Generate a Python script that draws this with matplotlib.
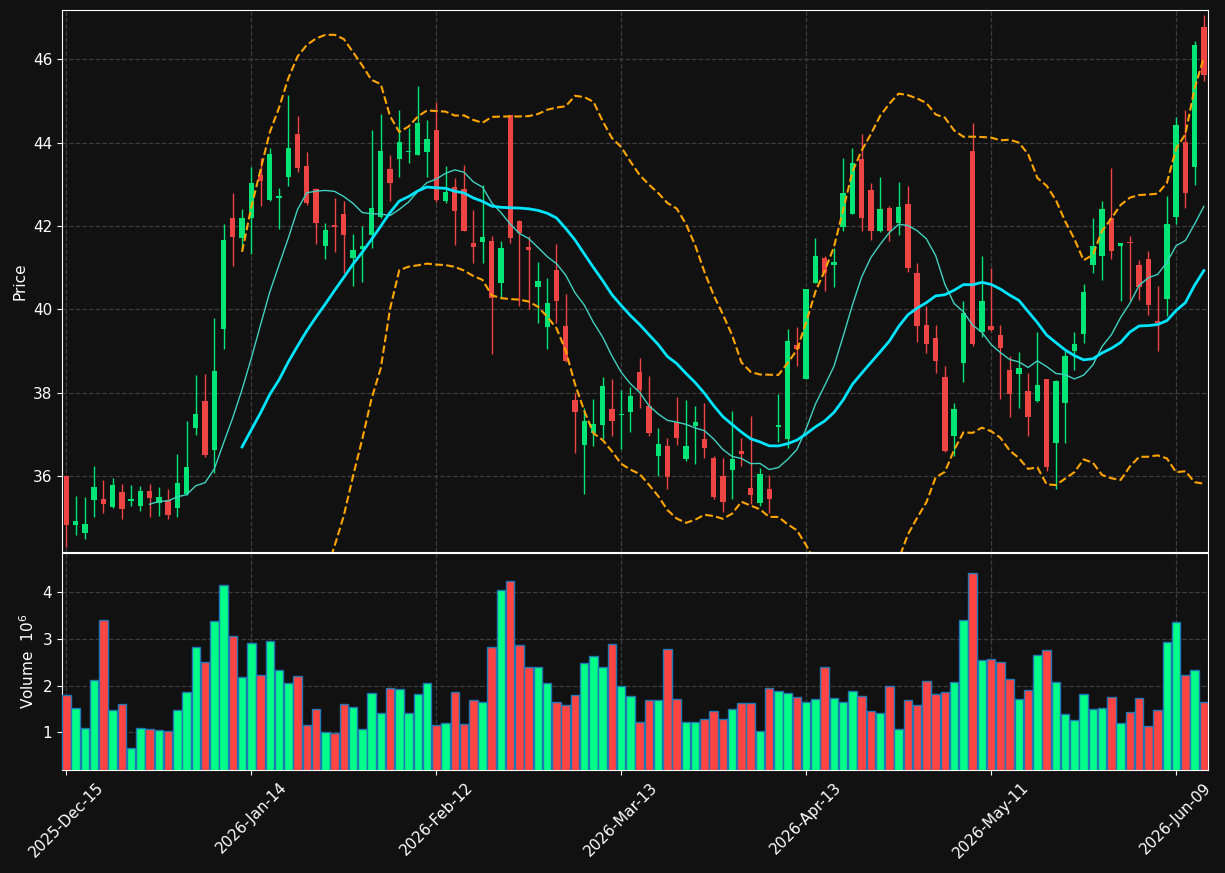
import numpy as np
import pandas as pd
import matplotlib
matplotlib.use("Agg")
import matplotlib.pyplot as plt

# daily OHLC (price) and volume (millions)
opens = [36.00, 34.82, 34.63, 35.43, 35.46, 35.27, 35.61, 35.41, 35.29, 35.65,
         35.35, 35.43, 35.23, 35.58, 37.15, 37.81, 36.62, 39.52, 42.20, 41.70,
         42.18, 43.23, 42.62, 42.66, 43.17, 44.21, 43.44, 42.89, 41.53, 42.03,
         42.29, 41.23, 41.44, 41.78, 42.21, 43.36, 43.60, 43.77, 43.71, 43.77,
         44.29, 42.61, 42.94, 42.89, 41.60, 41.61, 41.63, 40.64, 44.65, 42.13,
         41.50, 40.54, 39.57, 40.95, 39.61, 37.83, 36.74, 37.03, 37.23, 37.60,
         37.46, 37.53, 38.50, 37.67, 36.48, 36.73, 37.29, 36.40, 37.21, 36.90,
         36.44, 36.00, 36.14, 36.61, 35.71, 35.35, 35.69, 37.18, 36.88, 39.14,
         38.33, 40.64, 41.24, 41.06, 41.98, 42.29, 43.61, 42.87, 41.87, 42.43,
         42.08, 42.53, 40.88, 39.63, 39.32, 38.38, 36.96, 38.71, 43.79, 39.46,
         39.61, 39.39, 38.54, 38.44, 38.03, 37.79, 38.32, 36.79, 37.75, 38.99,
         39.42, 41.06, 41.27, 42.20, 41.51, 41.60, 41.07, 41.20, 39.72, 40.25,
         42.21, 44.02, 43.42, 46.78]
highs = [36.02, 35.53, 35.50, 36.24, 35.91, 35.96, 35.82, 35.79, 35.77, 35.82,
         35.74, 35.69, 36.54, 37.33, 38.43, 38.45, 39.79, 42.04, 42.79, 42.41,
         43.42, 43.63, 43.88, 42.91, 45.14, 44.64, 43.78, 42.92, 42.07, 42.67,
         42.60, 41.81, 42.00, 44.31, 44.69, 43.71, 44.78, 44.35, 45.36, 44.54,
         44.98, 43.43, 43.15, 43.46, 42.39, 42.98, 41.75, 41.64, 44.67, 42.14,
         41.75, 41.13, 40.75, 41.57, 40.36, 38.00, 37.63, 37.86, 38.38, 38.33,
         38.06, 38.13, 38.83, 38.40, 37.16, 36.91, 37.90, 37.82, 37.69, 37.75,
         36.48, 36.44, 37.57, 36.92, 37.44, 36.19, 36.03, 37.96, 39.53, 39.58,
         40.50, 41.71, 41.27, 41.46, 43.63, 43.86, 44.21, 43.02, 43.18, 42.47,
         43.06, 42.96, 41.11, 40.08, 39.63, 38.64, 37.75, 40.21, 44.46, 41.28,
         40.98, 39.63, 38.88, 38.98, 38.48, 39.46, 38.33, 38.31, 39.00, 39.46,
         40.61, 42.19, 42.60, 43.38, 41.60, 41.75, 41.19, 41.40, 40.55, 42.73,
         44.61, 44.79, 46.43, 47.06]
lows = [34.31, 34.58, 34.48, 35.02, 35.11, 35.24, 34.98, 35.28, 35.16, 35.03,
        35.04, 34.96, 35.03, 35.54, 36.98, 36.46, 36.08, 39.04, 41.04, 41.39,
        41.33, 42.48, 42.60, 41.93, 42.96, 43.29, 42.50, 41.56, 41.21, 41.38,
        40.88, 40.56, 40.65, 41.48, 42.18, 42.60, 43.17, 43.50, 43.70, 43.17,
        42.58, 42.54, 41.54, 41.88, 41.11, 41.11, 38.93, 40.28, 41.58, 40.07,
        40.00, 39.67, 39.04, 39.67, 38.74, 36.56, 35.58, 36.73, 36.88, 36.96,
        36.64, 37.06, 37.63, 36.96, 36.00, 35.69, 36.75, 36.36, 36.29, 36.43,
        35.44, 35.13, 35.46, 36.25, 35.33, 35.29, 35.11, 36.83, 36.67, 38.64,
        38.32, 40.63, 40.44, 40.53, 41.88, 42.28, 41.88, 41.67, 41.86, 41.64,
        41.78, 40.89, 39.21, 38.96, 38.48, 36.58, 36.48, 38.25, 39.13, 39.33,
        39.48, 37.86, 37.42, 37.63, 36.96, 37.78, 36.13, 35.69, 36.79, 38.54,
        39.19, 40.88, 40.71, 41.21, 40.19, 40.22, 40.22, 39.86, 39.00, 39.83,
        42.04, 42.44, 42.98, 45.48]
closes = [34.83, 34.93, 34.86, 35.73, 35.32, 35.78, 35.21, 35.46, 35.65, 35.48,
          35.51, 35.06, 35.84, 36.23, 37.48, 36.50, 38.53, 41.67, 41.74, 42.20,
          43.02, 43.07, 43.73, 42.73, 43.88, 43.38, 42.54, 42.06, 41.91, 41.98,
          41.78, 41.43, 41.53, 42.43, 43.81, 43.03, 44.02, 43.81, 44.46, 44.09,
          42.63, 42.82, 42.35, 41.89, 41.50, 41.74, 40.27, 41.46, 41.70, 41.83,
          41.42, 40.68, 40.16, 40.19, 38.75, 37.53, 37.33, 37.26, 38.17, 37.33,
          37.50, 37.93, 38.06, 37.03, 36.78, 35.98, 36.91, 36.73, 37.31, 36.67,
          35.50, 35.39, 36.42, 36.54, 35.54, 36.04, 35.44, 37.22, 39.25, 39.04,
          40.50, 41.28, 40.86, 41.14, 42.78, 43.52, 42.18, 41.89, 42.40, 41.89,
          42.46, 41.00, 39.61, 39.18, 38.77, 36.60, 37.60, 39.92, 39.17, 40.21,
          39.50, 39.07, 37.96, 38.60, 37.43, 38.19, 36.23, 38.27, 38.88, 39.17,
          40.42, 41.52, 42.40, 41.39, 41.58, 41.58, 40.54, 40.10, 39.68, 42.04,
          44.42, 42.78, 46.34, 45.63]
volumes = [1.79, 1.51, 1.09, 2.11, 3.40, 1.47, 1.60, 0.66, 1.09, 1.06,
           1.04, 1.02, 1.47, 1.86, 2.82, 2.50, 3.38, 4.15, 3.06, 2.18,
           2.91, 2.22, 2.95, 2.33, 2.05, 2.20, 1.15, 1.49, 1.00, 0.98,
           1.60, 1.54, 1.06, 1.84, 1.41, 1.94, 1.92, 1.41, 1.81, 2.05,
           1.15, 1.19, 1.86, 1.17, 1.69, 1.64, 2.82, 4.04, 4.24, 2.86,
           2.39, 2.39, 2.05, 1.64, 1.58, 1.79, 2.48, 2.63, 2.39, 2.89,
           2.00, 1.77, 1.21, 1.69, 1.69, 2.78, 1.71, 1.21, 1.21, 1.28,
           1.45, 1.28, 1.49, 1.62, 1.62, 1.02, 1.94, 1.88, 1.84, 1.75,
           1.64, 1.71, 2.39, 1.73, 1.64, 1.88, 1.77, 1.45, 1.41, 2.00,
           1.06, 1.69, 1.58, 2.09, 1.81, 1.86, 2.07, 3.40, 4.41, 2.54,
           2.56, 2.50, 2.14, 1.71, 1.90, 2.66, 2.76, 2.07, 1.39, 1.26,
           1.81, 1.49, 1.51, 1.75, 1.19, 1.43, 1.73, 1.13, 1.47, 2.93,
           3.36, 2.22, 2.33, 1.64]
tick_labels = ["2025-Dec-15", "2026-Jan-14", "2026-Feb-12", "2026-Mar-13",
               "2026-Apr-13", "2026-May-11", "2026-Jun-09"]

BG = "#111111"
UP, DOWN = "#00e676", "#ef4444"
VUP, VDOWN = "#00ff88", "#ff4444"

df = pd.DataFrame({"open": opens, "high": highs, "low": lows,
                   "close": closes, "volume": volumes})
x = np.arange(len(df))
up = df["close"] >= df["open"]

ma10 = df["close"].rolling(10).mean()
ma20 = df["close"].rolling(20).mean()
sd20 = df["close"].rolling(20).std(ddof=0)
bb_up = ma20 + 2 * sd20
bb_lo = ma20 - 2 * sd20

fig = plt.figure(figsize=(12.25, 8.73), dpi=100, facecolor=BG)
ax = fig.add_axes([62 / 1225, 1 - 552 / 873, 1146 / 1225, 542 / 873])
axv = fig.add_axes([62 / 1225, 1 - 770 / 873, 1146 / 1225, 217 / 873], sharex=ax)

# candles
ccol = np.where(up, UP, DOWN)
ax.vlines(x, df["low"], df["high"], colors=ccol, lw=1, zorder=3)
body_lo = np.minimum(df["open"], df["close"])
body_h = np.maximum((df["close"] - df["open"]).abs(), 0.04)
ax.bar(x, body_h, bottom=body_lo, width=0.58, color=ccol, zorder=4)

ax.plot(x, ma10, color="#40d0c0", lw=1, zorder=5)
ax.plot(x, ma20, color="#00e5ff", lw=2, zorder=5)
ax.plot(x, bb_up, color="#ffa500", lw=1.5, ls="--", zorder=5)
ax.plot(x, bb_lo, color="#ffa500", lw=1.5, ls="--", zorder=5)

# volume
vcol = np.where(up, VUP, VDOWN)
axv.bar(x, df["volume"], width=0.92, color=vcol, edgecolor="#1f77b4", lw=1, zorder=3)

ax.set_xlim(-0.47, 123.45)
ax.set_ylim(34.18, 47.18)
axv.set_ylim(0.19, 4.84)
ax.set_yticks([36, 38, 40, 42, 44, 46])
axv.set_yticks([1, 2, 3, 4])

ticks = np.arange(0, len(df), 20)
axv.set_xticks(ticks)
axv.set_xticklabels(tick_labels, rotation=45)
ax.tick_params(axis="x", labelbottom=False, length=0)

for a in (ax, axv):
    a.set_facecolor(BG)
    a.grid(True, ls="--", color="#3c3c3c", lw=0.9, zorder=0)
    a.set_axisbelow(True)
    for s in a.spines.values():
        s.set_color("white")
    a.tick_params(colors="white", labelsize=11)

ax.set_ylabel("Price", color="white", fontsize=11)
axv.set_ylabel("Volume  $10^{6}$", color="white", fontsize=11)

fig.savefig("out.png", dpi=100, facecolor=BG)
